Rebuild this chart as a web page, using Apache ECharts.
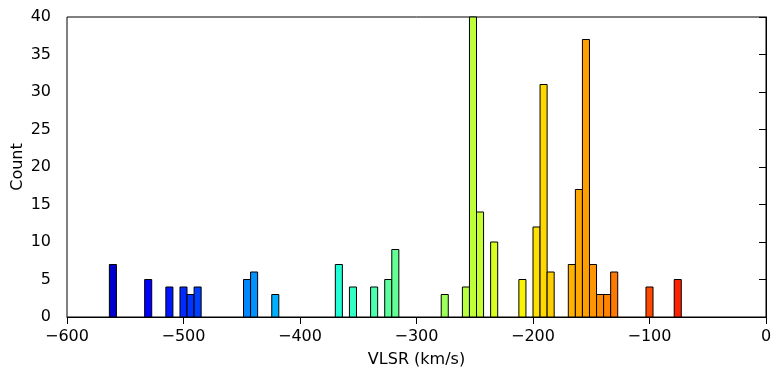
<!DOCTYPE html>
<html>
<head>
<meta charset="utf-8">
<script src="https://cdn.jsdelivr.net/npm/echarts@6/dist/echarts.min.js"></script>
<style>
  html, body { margin: 0; padding: 0; background: #fff; }
  #chart { width: 783px; height: 377px; }
</style>
</head>
<body>
<div id="chart"></div>
<script>
// histogram: 99 equal bins between -600 and 0 km/s, only non-empty bins listed
var binMin = -600;
var binMax = 0;
var binCount = 99;
var binIndex = [6, 11, 14, 16, 17, 18, 25, 26, 29, 38, 40, 43, 45, 46, 53,
                56, 57, 58, 60, 64, 66, 67, 68, 71, 72, 73, 74, 75, 76, 77, 82, 86];
var counts   = [7, 5, 4, 4, 3, 4, 5, 6, 3, 7, 4, 4, 5, 9, 3,
                4, 40, 14, 10, 5, 12, 31, 6, 7, 17, 37, 7, 3, 3, 6, 4, 5];
var xTicks = [-600, -500, -400, -300, -200, -100, 0];
var yTicks = [0, 5, 10, 15, 20, 25, 30, 35, 40];

// matplotlib 'jet'
var jetSeg = {
    r: [[0, 0], [0.35, 0], [0.66, 1], [0.89, 1], [1, 0.5]],
    g: [[0, 0], [0.125, 0], [0.375, 1], [0.64, 1], [0.91, 0], [1, 0]],
    b: [[0, 0.5], [0.11, 1], [0.34, 1], [0.65, 0], [1, 0]]
};
function seg(s, t) {
    for (var i = 1; i < s.length; i++) {
        if (t <= s[i][0]) {
            var f = (t - s[i - 1][0]) / (s[i][0] - s[i - 1][0]);
            return s[i - 1][1] + f * (s[i][1] - s[i - 1][1]);
        }
    }
    return s[s.length - 1][1];
}
function jet(t) {
    t = Math.max(0, Math.min(1, t));
    return 'rgb(' + Math.round(seg(jetSeg.r, t) * 255) + ',' +
        Math.round(seg(jetSeg.g, t) * 255) + ',' +
        Math.round(seg(jetSeg.b, t) * 255) + ')';
}

var binW = (binMax - binMin) / binCount;
var data = binIndex.map(function (k, i) {
    var x0 = binMin + k * binW;
    return [x0, x0 + binW, counts[i], x0 + binW / 2];
});

var font = 'DejaVu Sans';
var chart = echarts.init(document.getElementById('chart'));
chart.setOption({
    animation: false,
    backgroundColor: '#fff',
    grid: {
        left: 67, right: 17, top: 17, bottom: 60,
        outerBoundsMode: 'none',
        show: true, borderColor: '#000', borderWidth: 1, backgroundColor: 'transparent'
    },
    xAxis: {
        type: 'value',
        min: xTicks[0], max: xTicks[xTicks.length - 1], interval: 100,
        name: 'VLSR (km/s)', nameLocation: 'middle', nameGap: 35, nameMoveOverlap: false,
        nameTextStyle: { fontFamily: font, fontSize: 16, color: '#000' },
        axisLine: { lineStyle: { color: '#000', width: 1 } },
        axisTick: { show: true, inside: false, length: 7, lineStyle: { color: '#000' } },
        axisLabel: {
            fontFamily: font, fontSize: 16, color: '#000', margin: 20,
            verticalAlign: 'middle',
            formatter: function (v) { return String(v).replace('-', '\u2212'); }
        },
        splitLine: { show: false }
    },
    yAxis: {
        type: 'value',
        min: yTicks[0], max: yTicks[yTicks.length - 1], interval: 5,
        name: 'Count', nameLocation: 'middle', nameGap: 41, nameMoveOverlap: false,
        nameTextStyle: { fontFamily: font, fontSize: 16, color: '#000' },
        axisLine: { show: true, lineStyle: { color: '#000', width: 1 } },
        axisTick: { show: true, inside: false, length: 7, lineStyle: { color: '#000' } },
        axisLabel: { fontFamily: font, fontSize: 16, color: '#000', margin: 16 },
        splitLine: { show: false }
    },
    series: [{
        type: 'custom',
        encode: { x: [0, 1], y: 2 },
        data: data,
        renderItem: function (params, api) {
            var p0 = api.coord([api.value(0), 0]);
            var p1 = api.coord([api.value(1), api.value(2)]);
            var t = (api.value(3) - binMin) / (binMax - binMin);
            return {
                type: 'rect',
                shape: { x: p0[0], y: p1[1], width: p1[0] - p0[0], height: p0[1] - p1[1] },
                style: { fill: jet(t), stroke: '#000', lineWidth: 1 }
            };
        }
    }]
});
</script>
</body>
</html>
